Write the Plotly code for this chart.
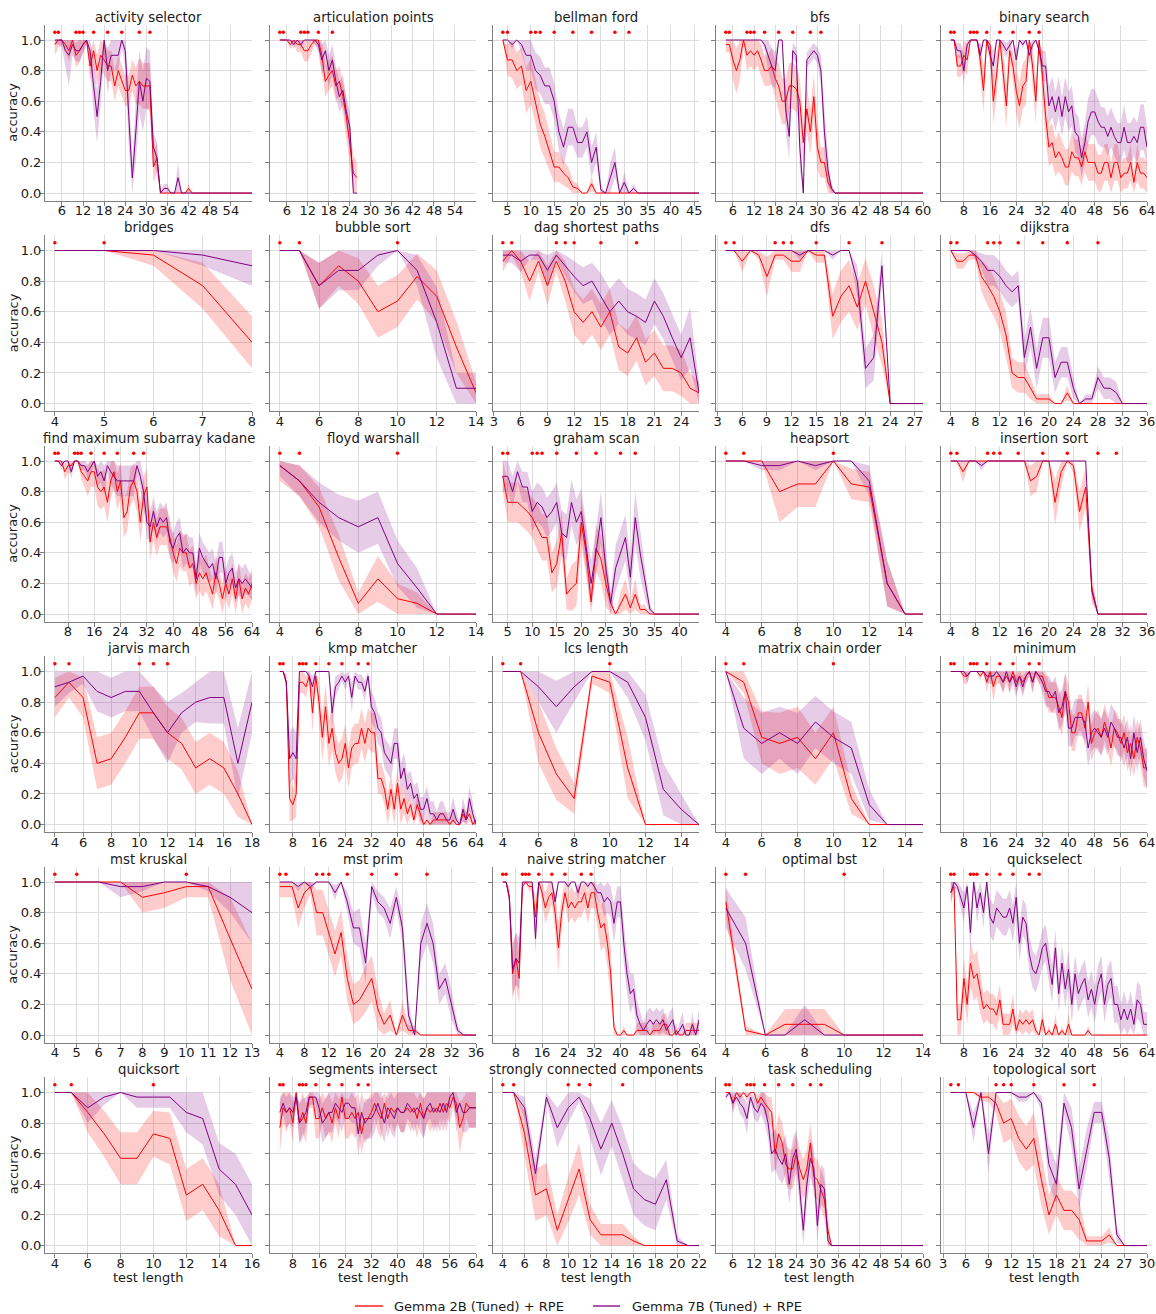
import sys
import plotly.graph_objects as go


def rng(a, b):
    return list(range(a, b + 1))


FULL_TRAIN = [4, 5, 10, 11, 12, 15, 19, 23, 28, 31]

# ---------------- activity selector ----------------
activity_selector_x = rng(4, 44) + [60]
activity_selector_red = [.97, 1, 1, .97, .93, 1, .90, .93, .97, 1,
                         .83, .93, .80, .90, .87, .83, .83, .70, .80, .73,
                         .67, .67, .77, .70, .73, .70, .70, .70, .17, .23,
                         0, 0, 0, 0, 0, 0, 0, 0, .03, 0,
                         0, 0]
activity_selector_red_err = [.07, .05, .03, .05, .07, .05, .08, .08, .05, .03,
                             .10, .10, .10, .10, .10, .10, .10, .10, .10, .10,
                             .10, .10, .10, .12, .15, .15, .15, .15, .10, .10,
                             0, 0, 0, 0, 0, 0, 0, 0, .03, 0,
                             0, 0]
activity_selector_purple = [1, 1, 1, .93, .90, .97, .93, .93, .97, 1,
                            .93, .70, .50, .73, 1, .80, .90, .90, .90, 1,
                            .93, .50, .10, .40, .73, .60, .75, .73, .30, .23,
                            0, .03, .03, 0, 0, .10, 0, 0, 0, 0,
                            0, 0]
activity_selector_purple_err = [.03, .03, .05, .10, .20, .07, .07, .07, .05, .03,
                                .10, .17, .17, .15, .10, .15, .10, .10, .10, .05,
                                .10, .20, .10, .20, .20, .20, .20, .20, .10, .10,
                                0, .03, .03, 0, 0, .10, 0, 0, 0, 0,
                                0, 0]
activity_selector_train = FULL_TRAIN
activity_selector_ticks = [6, 12, 18, 24, 30, 36, 42, 48, 54]

# ---------------- articulation points ----------------
articulation_points_x = rng(4, 26)
articulation_points_red = [1, 1, 1, .97, 1, .97, .97, .93, .93, .97,
                           1, 1, .90, .73, .77, .80, .70, .73, .63, .50,
                           .30, .13, .10]
articulation_points_red_err = [0, 0, 0, .03, .03, .05, .05, .07, .07, .05,
                               .03, .05, .10, .10, .10, .10, .10, .10, .10, .12,
                               .12, .12, .10]
articulation_points_purple = [1, 1, 1, 1, .97, 1, .97, 1, 1, 1,
                              1, .97, .87, .93, .80, .87, .73, .63, .67, .53,
                              .43, 0, 0]
articulation_points_purple_err = [0, 0, 0, 0, .03, 0, .03, 0, 0, 0,
                                  .03, .05, .10, .10, .10, .10, .10, .10, .10, .10,
                                  .10, 0, 0]
articulation_points_train = [4, 5, 10, 11, 12, 15, 19]
articulation_points_ticks = [6, 12, 18, 24, 30, 36, 42, 48, 54]

# ---------------- bellman ford ----------------
bellman_ford_x = rng(4, 34) + [46]
bellman_ford_red = [1, .87, .87, .80, .83, .67, .73, .60, .45, .37,
                    .27, .17, .17, .13, .10, .04, .03, 0, 0, .06,
                    0, 0, 0, 0, 0, 0, 0, 0, 0, 0,
                    0, 0]
bellman_ford_red_err = [0, .10, .12, .12, .12, .15, .15, .15, .15, .15,
                        .12, .10, .10, .08, .07, .04, .03, 0, 0, .05,
                        0, 0, 0, 0, 0, 0, 0, 0, 0, 0,
                        0, 0]
bellman_ford_purple = [1, 1, .97, 1, .97, .90, .90, .80, .77, .70,
                       .70, .60, .40, .30, .43, .43, .33, .33, .40, .20,
                       .30, .02, 0, .10, .20, 0, .07, 0, .03, 0,
                       0, 0]
bellman_ford_purple_err = [0, 0, .03, 0, .05, .10, .10, .12, .12, .12,
                           .12, .12, .12, .12, .12, .12, .10, .10, .10, .10,
                           .10, .03, 0, .10, .10, 0, .07, 0, .03, 0,
                           0, 0]
bellman_ford_train = FULL_TRAIN
bellman_ford_ticks = [5, 10, 15, 20, 25, 30, 35, 40, 45]

# ---------------- bfs ----------------
bfs_x = rng(4, 35) + [60]
bfs_red = [.97, .97, .87, .80, .87, 1, .90, .93, .90, .93,
           .87, .80, .80, .83, .75, .70, .60, .60, .70, .70,
           .68, .60, .33, .55, .40, .63, .30, .20, .20, .07,
           .03, 0, 0]
bfs_red_err = [.05, .05, .13, .15, .13, .05, .10, .10, .10, .10,
               .10, .10, .10, .12, .12, .15, .15, .15, .15, .15,
               .15, .15, .15, .15, .15, .15, .15, .10, .10, .07,
               .03, 0, 0]
bfs_purple = [1, 1, 1, 1, 1, 1, 1, 1, 1, 1,
              1, .97, .90, .83, .80, 1, 1, .55, .37, .93,
              .90, .30, 0, .87, .90, .93, .90, .80, .40, .15,
              .03, 0, 0]
bfs_purple_err = [0, 0, 0, 0, 0, 0, 0, 0, 0, 0,
                  0, .03, .10, .12, .12, 0, 0, .15, .15, .05,
                  .05, .15, 0, .05, .05, .05, .05, .10, .15, .10,
                  .03, 0, 0]
bfs_train = FULL_TRAIN
bfs_ticks = [6, 12, 18, 24, 30, 36, 42, 48, 54, 60]

# ---------------- binary search ----------------
binary_search_x = rng(4, 64)
binary_search_red = [1, 1, .83, .83, .90, .87, 1, 1, 1, .87,
                     .67, 1, .97, .60, .77, 1, .80, .57, .93, .83,
                     .67, .57, .70, .73, 1, .83, .60, 1, .77, .50,
                     .30, .33, .23, .27, .23, .17, .17, .27, .23, .23,
                     .17, .27, .20, .20, .20, .13, .13, .20, .20, .10,
                     .20, .20, .10, .13, .13, .20, .07, .20, .13, .13,
                     .10]
binary_search_red_err = [0, 0, .07, .07, .10, .10, 0, 0, 0, .10,
                         .15, .03, .05, .15, .15, .03, .15, .15, .07, .10,
                         .15, .15, .15, .15, .03, .13, .15, .03, .15, .15,
                         .13, .13, .12, .13, .12, .12, .12, .13, .12, .12,
                         .12, .13, .12, .12, .12, .12, .12, .12, .12, .10,
                         .12, .12, .10, .10, .10, .12, .07, .12, .10, .10,
                         .10]
binary_search_purple = [1, 1, .93, .93, .80, .97, 1, 1, 1, .90,
                        1, 1, .90, .83, 1, 1, .97, .93, .97, 1,
                        .87, 1, .97, 1, .90, .97, 1, .93, .83, .83,
                        .57, .63, .53, .63, .50, .63, .53, .57, .40, .37,
                        .23, .33, .47, .53, .53, .47, .43, .43, .37, .43,
                        .37, .33, .33, .43, .33, .33, .37, .33, .43, .43,
                        .30]
binary_search_purple_err = [0, 0, .05, .05, .10, .03, 0, 0, 0, .07,
                            0, 0, .07, .10, 0, 0, .03, .05, .03, 0,
                            .07, 0, .03, 0, .07, .03, 0, .05, .10, .10,
                            .13, .13, .13, .13, .13, .13, .13, .13, .13, .13,
                            .13, .13, .15, .15, .15, .15, .13, .13, .13, .13,
                            .13, .13, .13, .15, .13, .13, .13, .13, .15, .15,
                            .13]
binary_search_train = FULL_TRAIN
binary_search_ticks = [8, 16, 24, 32, 40, 48, 56, 64]

# ---------------- bridges ----------------
bridges_x = rng(4, 8)
bridges_red = [1, 1, .97, .77, .40]
bridges_red_err = [0, 0, .07, .15, .17]
bridges_purple = [1, 1, 1, .97, .90]
bridges_purple_err = [0, 0, 0, .07, .13]
bridges_train = [4, 5]
bridges_ticks = [4, 5, 6, 7, 8]

# ---------------- bubble sort ----------------
bubble_sort_x = rng(4, 14)
bubble_sort_red = [1, 1, .77, .90, .80, .60, .67, .83, .70, .37, .07]
bubble_sort_red_err = [0, 0, .15, .13, .15, .17, .17, .15, .17, .17, .07]
bubble_sort_purple = [1, 1, .77, .87, .87, .97, 1, .87, .53, .10, .10]
bubble_sort_purple_err = [0, 0, .15, .13, .13, .07, 0, .10, .23, .10, .10]
bubble_sort_train = [4, 5, 10]
bubble_sort_ticks = [4, 6, 8, 10, 12, 14]

# ---------------- dag shortest paths ----------------
dag_x = rng(4, 26)
dag_red = [.93, 1, .93, .80, .93, .77, .93, .80, .60, .53,
           .60, .50, .60, .37, .33, .43, .27, .33, .23, .23,
           .20, .10, .07]
dag_red_err = [.07, .03, .07, .13, .07, .13, .07, .13, .15, .15,
               .15, .15, .15, .15, .15, .15, .15, .15, .15, .15,
               .15, .10, .07]
dag_purple = [.97, .97, .93, .97, .97, .87, .97, .90, .83, .77,
              .80, .70, .60, .67, .60, .57, .53, .67, .57, .43,
              .30, .43, .07]
dag_purple_err = [.05, .05, .07, .03, .03, .10, .03, .07, .10, .12,
                  .12, .15, .15, .15, .15, .15, .15, .15, .15, .15,
                  .15, .20, .07]
dag_train = [4, 5, 10, 11, 12, 15, 19]
dag_ticks = [3, 6, 9, 12, 15, 18, 21, 24]

# ---------------- dfs ----------------
dfs_x = rng(4, 28)
dfs_red = [1, 1, .93, 1, .97, .83, .97, .97, .93, .93,
           1, .97, .97, .57, .70, .77, .63, .80, .60, .40,
           0, 0, 0, 0, 0]
dfs_red_err = [0, 0, .07, 0, .03, .13, .03, .03, .07, .07,
               0, .05, .05, .15, .17, .17, .15, .15, .17, .15,
               0, 0, 0, 0, 0]
dfs_purple = [1, 1, 1, 1, 1, 1, 1, 1, 1, .97,
              1, 1, 1, .97, 1, 1, .80, .23, .30, .90,
              0, 0, 0, 0, 0]
dfs_purple_err = [0, 0, 0, 0, 0, 0, 0, 0, 0, .03,
                  0, 0, 0, .03, 0, 0, .10, .13, .15, .10,
                  0, 0, 0, 0, 0]
dfs_train = [4, 5, 10, 11, 12, 15, 19, 23]
dfs_ticks = [3, 6, 9, 12, 15, 18, 21, 24, 27]

# ---------------- dijkstra ----------------
dijkstra_x = rng(4, 33) + [36]
dijkstra_red = [1, .93, .93, .97, .97, .83, .77, .70, .60, .45,
                .20, .17, .17, .10, .03, .03, .03, 0, 0, .07,
                0, 0, 0, 0, 0, 0, 0, 0, 0, 0,
                0]
dijkstra_red_err = [0, .05, .05, .03, .03, .10, .13, .13, .13, .15,
                    .10, .10, .10, .07, .03, .03, .03, 0, 0, .05,
                    0, 0, 0, 0, 0, 0, 0, 0, 0, 0,
                    0]
dijkstra_purple = [1, 1, 1, 1, .97, .93, .87, .87, .83, .77,
                   .73, .77, .30, .50, .23, .43, .43, .17, .27, .27,
                   .10, 0, .03, .03, .17, .10, .10, .07, 0, 0,
                   0]
dijkstra_purple_err = [0, 0, 0, 0, .03, .05, .10, .10, .10, .10,
                       .10, .10, .12, .13, .13, .13, .13, .10, .10, .10,
                       .07, 0, .03, .03, .07, .07, .07, .07, 0, 0,
                       0]
dijkstra_train = [4, 5, 10, 11, 12, 15, 19, 23, 28]
dijkstra_ticks = [4, 8, 12, 16, 20, 24, 28, 32, 36]

# ---------------- find maximum subarray kadane ----------------
kadane_x = rng(4, 64)
kadane_red = [1, 1, 1, .93, .97, .97, 1, 1, .93, .90,
              .87, .93, .93, .83, .80, .83, .73, .87, .93, .80,
              .87, .63, .67, .83, .87, .80, .60, .77, .83, .47,
              .60, .50, .57, .57, .57, .50, .40, .33, .43, .40,
              .40, .30, .33, .20, .27, .23, .27, .20, .13, .27,
              .20, .10, .20, .13, .23, .10, .23, .10, .17, .13,
              .20]
kadane_red_err = [0, 0, 0, .05, .05, .05, 0, 0, .05, .07,
                  .10, .10, .10, .12, .12, .12, .13, .12, .10, .12,
                  .12, .13, .13, .12, .12, .13, .13, .13, .12, .12,
                  .12, .12, .12, .12, .12, .12, .12, .12, .12, .12,
                  .12, .12, .12, .10, .12, .12, .12, .10, .10, .12,
                  .10, .10, .10, .10, .10, .10, .10, .10, .10, .10,
                  .10]
kadane_purple = [1, 1, .97, 1, 1, .93, 1, 1, .97, .97,
                 .93, .97, 1, .90, .93, .87, .97, .93, .90, .87,
                 .87, .87, .87, .87, .87, .97, .90, .80, .60, .57,
                 .67, .57, .63, .60, .63, .47, .43, .50, .53, .40,
                 .43, .40, .40, .23, .43, .37, .33, .30, .33, .23,
                 .37, .37, .20, .27, .30, .17, .23, .20, .23, .20,
                 .17]
kadane_purple_err = [0, 0, .03, 0, 0, .05, 0, 0, .03, .03,
                     .05, .05, .03, .07, .07, .10, .05, .07, .10, .10,
                     .10, .10, .10, .10, .10, .05, .10, .10, .10, .10,
                     .10, .10, .10, .10, .10, .10, .10, .10, .10, .10,
                     .10, .10, .10, .10, .10, .10, .10, .10, .10, .10,
                     .10, .10, .10, .10, .10, .10, .10, .10, .10, .08,
                     .08]
kadane_train = FULL_TRAIN
kadane_ticks = [8, 16, 24, 32, 40, 48, 56, 64]

# ---------------- floyd warshall ----------------
floyd_x = rng(4, 14)
floyd_red = [.97, .87, .70, .37, .07, .23, .10, .07, 0, 0, 0]
floyd_red_err = [.10, .10, .13, .15, .07, .15, .10, .07, 0, 0, 0]
floyd_purple = [.97, .87, .73, .63, .57, .63, .33, .17, 0, 0, 0]
floyd_purple_err = [.07, .10, .13, .15, .17, .17, .15, .13, 0, 0, 0]
floyd_train = [4, 5, 10]
floyd_ticks = [4, 6, 8, 10, 12, 14]

# ---------------- graham scan ----------------
graham_x = rng(4, 35) + [44]
graham_red = [.90, .73, .73, .73, .70, .67, .63, .57, .50, .50,
              .27, .33, .53, .13, .17, .20, .60, .40, .08, .43,
              .36, .20, .07, 0, .07, .13, .04, .13, .03, .03,
              0, 0, 0]
graham_red_err = [.10, .13, .13, .13, .13, .13, .13, .15, .15, .15,
                  .13, .15, .15, .10, .15, .15, .15, .15, .08, .15,
                  .15, .15, .07, 0, .07, .10, .05, .10, .03, .03,
                  0, 0, 0]
graham_purple = [.90, .90, .80, .93, .83, .83, .67, .73, .70, .63,
                 .67, .73, .53, .50, .73, .60, .67, .43, .20, .40,
                 .63, .30, .07, .30, .40, .50, .24, .63, .40, .20,
                 .03, 0, 0]
graham_purple_err = [.10, .10, .10, .07, .10, .10, .13, .13, .13, .13,
                     .13, .13, .15, .15, .15, .15, .15, .15, .15, .15,
                     .17, .15, .07, .15, .15, .15, .13, .17, .15, .10,
                     .03, 0, 0]
graham_train = FULL_TRAIN
graham_ticks = [5, 10, 15, 20, 25, 30, 35, 40]

# ---------------- heapsort ----------------
heapsort_x = rng(4, 15)
heapsort_red = [1, 1, 1, .80, .85, .85, 1, .85, .83, .20, 0, 0]
heapsort_red_err = [0, 0, 0, .20, .15, .15, 0, .10, .10, .15, 0, 0]
heapsort_purple = [1, 1, .97, .97, 1, .97, 1, 1, .87, .20, 0, 0]
heapsort_purple_err = [0, 0, .03, .03, 0, .03, 0, 0, .10, .15, 0, 0]
heapsort_train = [4, 5, 10]
heapsort_ticks = [4, 6, 8, 10, 12, 14]

# ---------------- insertion sort ----------------
insertion_x = rng(4, 28) + [36]
insertion_red = [1, 1, .93, 1, 1, 1, 1, 1, 1, 1,
                 1, 1, 1, .87, .90, 1, 1, .73, .93, 1,
                 .97, .67, .83, .17, 0, 0]
insertion_red_err = [0, 0, .07, 0, 0, 0, 0, 0, 0, 0,
                     0, 0, 0, .10, .10, 0, 0, .15, .10, 0,
                     .05, .13, .13, .10, 0, 0]
insertion_purple = [1, 1, 1, 1, 1, .97, 1, 1, 1, 1,
                    1, 1, 1, 1, 1, 1, 1, 1, 1, 1,
                    1, 1, 1, .15, 0, 0]
insertion_purple_err = [0, 0, 0, 0, 0, .03, 0, 0, 0, 0,
                        0, 0, 0, 0, 0, 0, 0, 0, 0, 0,
                        0, 0, 0, .05, 0, 0]
insertion_train = FULL_TRAIN
insertion_ticks = [4, 8, 12, 16, 20, 24, 28, 32, 36]

# ---------------- jarvis march ----------------
jarvis_x = rng(4, 18)
jarvis_red = [.83, .93, .83, .40, .43, .57, .73, .73, .60, .53, .37, .43, .37, .20, 0]
jarvis_red_err = [.13, .10, .13, .17, .17, .17, .17, .17, .17, .17, .17, .17, .17, .15, 0]
jarvis_purple = [.90, .93, .97, .87, .83, .87, .87, .73, .60, .73, .80, .83, .83, .40, .80]
jarvis_purple_err = [.13, .07, .05, .13, .13, .13, .13, .17, .20, .13, .13, .17, .17, .23, .20]
jarvis_train = [4, 5, 10, 11, 12]
jarvis_ticks = [4, 6, 8, 10, 12, 14, 16, 18]

# ---------------- kmp matcher ----------------
kmp_x = rng(4, 64)
kmp_red = [1, 1, .93, .17, .13, .20, .93, .93, .90, .97,
           .73, .97, .80, .57, .77, .53, .63, .47, .40, .43,
           .53, .37, .50, .53, .53, .63, .53, .63, .60, .60,
           .30, .30, .23, .10, .23, .10, .27, .10, .17, .07,
           .13, .03, .13, .07, 0, .03, 0, .03, .03, .03,
           .03, .03, 0, .03, 0, 0, .07, .03, .07, 0,
           .03]
kmp_red_err = [0, 0, .05, .15, .10, .15, .07, .07, .07, .03,
               .13, .05, .13, .15, .15, .15, .15, .13, .13, .13,
               .13, .13, .13, .13, .13, .13, .13, .13, .13, .13,
               .10, .10, .10, .10, .10, .10, .10, .10, .10, .07,
               .07, .05, .07, .07, 0, .05, 0, .05, .05, .05,
               .05, .05, 0, .05, 0, 0, .05, .05, .05, 0,
               .05]
kmp_purple = [1, 1, .93, .43, .47, .43, 1, 1, 1, .97,
              .90, 1, 1, 1, 1, 1, .73, .90, .93, .97,
              .93, .97, .83, .97, .93, .93, .87, .97, .77, .73,
              .63, .60, .47, .43, .40, .53, .53, .30, .37, .23,
              .27, .17, .20, .10, .10, .17, .07, .07, .03, .07,
              .07, .03, .03, .10, .03, 0, .10, .03, .17, .07,
              0]
kmp_purple_err = [0, 0, .05, .17, .17, .17, 0, 0, 0, .03,
                  .07, 0, 0, 0, 0, 0, .10, .07, .05, .03,
                  .05, .03, .10, .03, .05, .05, .07, .03, .10, .10,
                  .10, .10, .10, .10, .10, .10, .10, .10, .10, .10,
                  .08, .08, .08, .08, .08, .08, .08, .08, .05, .08,
                  .08, .05, .05, .08, .05, 0, .08, .05, .08, .08,
                  0]
kmp_train = FULL_TRAIN
kmp_ticks = [8, 16, 24, 32, 40, 48, 56, 64]

# ---------------- lcs length ----------------
lcs_x = rng(4, 15)
lcs_red = [1, 1, .60, .33, .17, .97, .93, .37, 0, 0, 0, 0]
lcs_red_err = [0, 0, .20, .17, .10, .05, .07, .20, 0, 0, 0, 0]
lcs_purple = [1, 1, .90, .77, .90, 1, 1, .93, .70, .23, .10, 0]
lcs_purple_err = [0, 0, .10, .17, .10, 0, 0, .10, .15, .17, .10, 0]
lcs_train = [4, 5, 10]
lcs_ticks = [4, 6, 8, 10, 12, 14]

# ---------------- matrix chain order ----------------
matrix_x = rng(4, 15)
matrix_red = [1, .93, .57, .53, .57, .43, .60, .17, 0, 0, 0, 0]
matrix_red_err = [0, .07, .17, .20, .20, .17, .17, .10, 0, 0, 0, 0]
matrix_purple = [1, .63, .53, .60, .53, .67, .57, .50, .13, 0, 0, 0]
matrix_purple_err = [0, .20, .20, .17, .20, .17, .17, .17, .10, 0, 0, 0]
matrix_train = [4, 5, 10]
matrix_ticks = [4, 6, 8, 10, 12, 14]

# ---------------- minimum ----------------
minimum_x = rng(4, 64)
minimum_red = [1, 1, 1, 1, .97, .97, 1, 1, 1, .97,
               1, .93, 1, .90, .97, .97, .93, .97, .93, 1,
               .93, .97, .93, .97, 1, .93, 1, .97, .97, .90,
               .83, .83, .83, .77, .70, .87, .80, .60, .60, .73,
               .73, .63, .80, .53, .60, .63, .57, .67, .60, .50,
               .63, .60, .53, .60, .47, .53, .43, .57, .50, .37,
               .37]
minimum_red_err = [0, 0, 0, 0, .05, .05, 0, 0, 0, .03,
                   0, .07, .03, .10, .05, .05, .07, .05, .07, .03,
                   .07, .05, .07, .05, .03, .07, .03, .05, .05, .10,
                   .10, .10, .10, .12, .12, .12, .12, .12, .12, .12,
                   .12, .12, .12, .12, .12, .12, .12, .12, .12, .12,
                   .12, .12, .12, .12, .12, .12, .12, .12, .12, .12,
                   .13]
minimum_purple = [1, 1, 1, 1, 1, .97, 1, 1, 1, 1,
                  1, .97, .97, .97, 1, .97, .93, 1, .93, .97,
                  .90, .97, .90, .97, 1, .93, 1, .97, .93, .87,
                  .87, .83, .87, .73, .77, .87, .63, .63, .70, .70,
                  .70, .67, .50, .60, .63, .60, .57, .63, .57, .67,
                  .63, .57, .57, .50, .57, .43, .60, .47, .57, .43,
                  .35]
minimum_purple_err = [0, 0, 0, 0, 0, .05, 0, 0, 0, 0,
                      0, .05, .05, .05, 0, .05, .07, .03, .07, .05,
                      .07, .05, .07, .05, .03, .07, .03, .05, .07, .10,
                      .10, .10, .10, .12, .12, .12, .12, .12, .12, .12,
                      .12, .12, .12, .12, .12, .12, .12, .12, .12, .12,
                      .12, .12, .12, .12, .12, .12, .12, .12, .12, .12,
                      .12]
minimum_train = FULL_TRAIN
minimum_ticks = [8, 16, 24, 32, 40, 48, 56, 64]

# ---------------- mst kruskal ----------------
kruskal_x = rng(4, 13)
kruskal_red = [1, 1, 1, 1, .90, .93, .97, .97, .63, .30]
kruskal_red_err = [0, 0, 0, 0, .10, .10, .07, .07, .27, .30]
kruskal_purple = [1, 1, 1, .97, .97, 1, 1, .97, .90, .80]
kruskal_purple_err = [0, 0, 0, .07, .03, 0, 0, .03, .10, .20]
kruskal_train = [4, 5, 10]
kruskal_ticks = [4, 5, 6, 7, 8, 9, 10, 11, 12, 13]

# ---------------- mst prim ----------------
prim_x = rng(4, 34) + [36]
prim_red = [.97, .97, .97, .83, .93, .97, .80, .80, .67, .53,
            .67, .37, .20, .23, .30, .37, .17, .07, .13, 0,
            .13, .03, .03, 0, 0, 0, 0, 0, 0, 0,
            0, 0]
prim_red_err = [.07, .07, .07, .13, .10, .05, .15, .15, .15, .15,
                .15, .15, .13, .13, .15, .15, .13, .07, .10, 0,
                .10, .03, .03, 0, 0, 0, 0, 0, 0, 0,
                0, 0]
prim_purple = [1, 1, 1, .97, 1, .97, 1, 1, 1, .93,
               1, .87, .70, .70, .47, .97, .87, .83, .73, .90,
               .70, .13, 0, .60, .73, .60, .30, .37, .20, .03,
               0, 0]
prim_purple_err = [0, 0, 0, .03, 0, .03, 0, 0, 0, .05,
                   0, .07, .10, .13, .13, .05, .07, .07, .10, .07,
                   .10, .10, 0, .13, .13, .13, .10, .10, .10, .03,
                   0, 0]
prim_train = [4, 5, 10, 11, 12, 15, 19, 23, 28]
prim_ticks = [4, 8, 12, 16, 20, 24, 28, 32, 36]

# ---------------- naive string matcher ----------------
naive_x = rng(4, 64)
naive_red = [1, 1, .90, .40, .50, .37, .97, 1, .97, .97,
             .77, 1, .93, .83, .90, .93, .80, .57, .80, .93,
             .83, .87, .83, .87, .87, .93, .83, .93, .93, .80,
             .70, .73, .60, .40, .05, 0, 0, .03, 0, 0,
             0, .03, .03, .03, .03, 0, .03, .03, .03, .07,
             .07, 0, 0, .03, 0, 0, .03, .03, .03, .03,
             .03]
naive_red_err = [0, 0, .07, .17, .17, .17, .03, 0, .03, .03,
                 .13, 0, .07, .10, .10, .07, .13, .17, .10, .07,
                 .10, .10, .10, .10, .10, .10, .10, .10, .10, .10,
                 .15, .15, .15, .17, .05, 0, 0, .03, 0, 0,
                 0, .05, .05, .05, .05, 0, .05, .05, .05, .07,
                 .07, 0, 0, .05, 0, 0, .05, .05, .05, .05,
                 .05]
naive_purple = [1, 1, .90, .43, .50, .47, 1, 1, 1, 1,
                .63, 1, 1, 1, 1, 1, .87, 1, 1, 1,
                .97, 1, 1, .93, 1, 1, .97, 1, .97, .93,
                .93, .87, .90, .87, .73, .87, .87, .60, .40, .27,
                .30, .13, .07, .03, .07, .10, .07, .10, .07, .10,
                .03, .07, .10, 0, .03, .07, 0, 0, .07, 0,
                .10]
naive_purple_err = [0, 0, .05, .17, .17, .17, 0, 0, 0, 0,
                    .10, 0, 0, 0, 0, 0, .05, 0, 0, 0,
                    .03, 0, 0, .05, 0, 0, .03, 0, .03, .05,
                    .07, .10, .10, .10, .13, .10, .10, .13, .13, .13,
                    .10, .10, .08, .05, .08, .08, .08, .08, .08, .08,
                    .05, .08, .08, 0, .05, .08, 0, 0, .08, 0,
                    .08]
naive_train = FULL_TRAIN
naive_ticks = [8, 16, 24, 32, 40, 48, 56, 64]

# ---------------- optimal bst ----------------
obst_x = rng(4, 14)
obst_red = [.87, .03, 0, .07, .07, .07, 0, 0, 0, 0, 0]
obst_red_err = [.10, .03, 0, .10, .10, .10, 0, 0, 0, 0, 0]
obst_purple = [.83, .60, 0, 0, .10, 0, 0, 0, 0, 0, 0]
obst_purple_err = [.13, .17, 0, 0, .10, 0, 0, 0, 0, 0, 0]
obst_train = [4, 5, 10]
obst_ticks = [4, 6, 8, 10, 12, 14]

# ---------------- quickselect ----------------
quickselect_x = rng(4, 64)
quickselect_red = [.93, .97, .10, .10, .37, .20, .47, .37, .40, .27,
                   .17, .20, .17, .17, .13, .23, .07, .07, .07, .17,
                   .03, .10, .07, .10, .07, .10, .03, 0, .10, 0,
                   .03, 0, .07, 0, .03, 0, .07, 0, 0, 0,
                   0, 0, .03, 0, 0, 0, 0, 0, 0, 0,
                   0, 0, 0, 0, 0, 0, 0, 0, 0, 0,
                   0]
quickselect_red_err = [.07, .03, .10, .10, .13, .13, .15, .15, .15, .13,
                       .10, .10, .10, .10, .10, .10, .07, .07, .07, .10,
                       .03, .07, .07, .07, .07, .07, .03, 0, .07, 0,
                       .03, 0, .07, 0, .03, 0, .07, 0, 0, 0,
                       0, 0, .03, 0, 0, 0, 0, 0, 0, 0,
                       0, 0, 0, 0, 0, 0, 0, 0, 0, 0,
                       0]
quickselect_purple = [.93, 1, .97, .90, .83, .97, .67, 1, .83, .93,
                      .80, 1, .77, .73, .83, .80, .77, .77, .83, .73,
                      .90, .60, .77, .73, .53, .43, .40, .47, .57, .60,
                      .47, .33, .57, .27, .47, .30, .43, .20, .40, .27,
                      .33, .37, .23, .30, .20, .33, .40, .20, .33, .37,
                      .20, .20, .10, .17, .10, .17, .07, .23, .20, .07,
                      .07]
quickselect_purple_err = [.07, .03, .03, .07, .10, .05, .13, .03, .10, .07,
                          .10, .05, .12, .12, .12, .12, .12, .12, .12, .12,
                          .12, .12, .12, .12, .12, .12, .12, .12, .12, .12,
                          .12, .12, .12, .12, .12, .12, .12, .12, .12, .12,
                          .12, .12, .12, .12, .12, .12, .12, .12, .12, .12,
                          .12, .12, .10, .12, .10, .12, .10, .12, .12, .08,
                          .08]
quickselect_train = FULL_TRAIN
quickselect_ticks = [8, 16, 24, 32, 40, 48, 56, 64]

# ---------------- quicksort ----------------
quicksort_x = rng(4, 16)
quicksort_red = [1, 1, .87, .73, .57, .57, .73, .70, .33, .40, .23, 0, 0]
quicksort_red_err = [0, 0, .13, .15, .17, .17, .15, .17, .17, .17, .17, 0, 0]
quicksort_purple = [1, 1, .90, .97, 1, .97, .97, .97, .87, .83, .50, .40, .20]
quicksort_purple_err = [0, 0, .10, .05, 0, .07, .07, .07, .13, .17, .17, .20, .20]
quicksort_train = [4, 5, 10]
quicksort_ticks = [4, 6, 8, 10, 12, 14, 16]

# ---------------- segments intersect ----------------
segments_x = rng(4, 64)
segments_red = [.77, .90, .87, .90, .80, 1, .80, .87, .80, .97,
                .97, .83, .83, .90, .83, .87, .80, .90, .83, .97,
                .83, .83, .87, .83, .87, .73, .83, .83, .87, .93,
                .87, .83, .93, .83, .90, .87, .90, .87, .87, .90,
                .87, .90, .83, .93, .83, .90, .87, .90, .87, .93,
                .87, .93, .90, .97, .93, .77, .83, .93, .90, .90,
                .90]
segments_red_err = [.17, .10, .13, .10, .13, .05, .13, .13, .13, .07,
                    .07, .13, .13, .10, .13, .13, .13, .10, .13, .07,
                    .13, .13, .13, .13, .13, .13, .13, .13, .13, .10,
                    .13, .13, .10, .13, .10, .13, .10, .13, .13, .10,
                    .13, .10, .13, .10, .13, .10, .13, .10, .13, .10,
                    .13, .10, .10, .07, .10, .17, .13, .10, .13, .13,
                    .13]
segments_purple = [.87, .93, .87, .90, .87, .97, .80, .83, .87, .97,
                   .97, .97, .90, .80, .83, .87, .87, .93, .90, .87,
                   .93, .93, .90, .90, .73, .87, .80, .83, .83, .87,
                   .93, .87, .80, .90, .87, .83, .90, .87, .87, .93,
                   .90, .87, .90, .87, .83, .90, .93, .87, .90, .87,
                   .93, .87, .97, 1, .87, .93, .87, .87, .90, .90,
                   .90]
segments_purple_err = [.10, .07, .10, .10, .10, .05, .13, .13, .10, .05,
                       .05, .05, .10, .13, .13, .13, .13, .10, .10, .13,
                       .10, .10, .10, .10, .15, .13, .13, .13, .13, .13,
                       .10, .13, .13, .10, .13, .13, .10, .13, .13, .10,
                       .10, .13, .10, .13, .13, .10, .10, .13, .10, .13,
                       .10, .13, .07, .05, .13, .10, .13, .13, .13, .13,
                       .13]
segments_train = FULL_TRAIN
segments_ticks = [8, 16, 24, 32, 40, 48, 56, 64]

# ---------------- strongly connected components ----------------
scc_x = rng(4, 22)
scc_red = [1, 1, .73, .33, .37, .10, .30, .50, .17, .07, .07, .07, .03, 0, 0, 0, 0, 0, 0]
scc_red_err = [0, 0, .15, .17, .17, .10, .15, .17, .10, .07, .07, .07, .03, 0, 0, 0, 0, 0, 0]
scc_purple = [1, 1, .90, .47, .97, .77, .90, .97, .83, .63, .80, .60, .37, .30, .27, .43, .03, 0, 0]
scc_purple_err = [0, 0, .07, .10, .03, .13, .10, .03, .13, .17, .15, .17, .17, .17, .17, .13, .03, 0, 0]
scc_train = [4, 5, 10, 11, 12, 15]
scc_ticks = [4, 6, 8, 10, 12, 14, 16, 18, 20, 22]

# ---------------- task scheduling ----------------
task_x = rng(4, 34) + [60]
task_red = [1, 1, .93, 1, .97, 1, .97, 1, 1, .93,
            .97, .93, .90, .87, .60, .73, .67, .53, .50, .50,
            .60, .50, .43, .50, .67, .45, .43, .37, .30, .10,
            0, 0]
task_red_err = [0, 0, .05, 0, .03, 0, .03, 0, 0, .05,
                .03, .07, .07, .10, .13, .13, .13, .13, .13, .13,
                .13, .13, .13, .13, .13, .13, .13, .13, .13, .10,
                0, 0]
task_purple = [.97, 1, .93, .97, .93, .90, .83, .97, .90, .87,
               .93, .90, .80, .60, .63, .57, .53, .60, .40, .57,
               .63, .37, .10, .40, .57, .50, .13, .40, .37, .03,
               0, 0]
task_purple_err = [.03, 0, .07, .03, .07, .07, .10, .03, .07, .07,
                   .07, .10, .10, .13, .13, .13, .13, .13, .13, .13,
                   .13, .13, .10, .13, .13, .13, .10, .13, .13, .03,
                   0, 0]
task_train = FULL_TRAIN
task_ticks = [6, 12, 18, 24, 30, 36, 42, 48, 54, 60]

# ---------------- topological sort ----------------
topo_x = rng(4, 30)
topo_red = [1, 1, 1, 1, .97, .97, .93, .80, .83, .70,
            .63, .70, .43, .20, .33, .23, .23, .17, .03, .03,
            .03, .07, 0, 0, 0, 0, 0]
topo_red_err = [0, 0, 0, 0, .03, .03, .07, .13, .13, .15,
                .15, .17, .17, .13, .13, .13, .13, .13, .03, .03,
                .03, .05, 0, 0, 0, 0, 0]
topo_purple = [1, 1, 1, .77, 1, .60, 1, 1, 1, .97,
               .97, 1, .93, .53, .40, .93, .77, .37, .63, .87,
               .87, .57, .07, 0, 0, 0, 0]
topo_purple_err = [0, 0, 0, .10, 0, .13, 0, 0, 0, .03,
                   .03, 0, .05, .13, .13, .07, .13, .13, .13, .07,
                   .07, .13, .05, 0, 0, 0, 0]
topo_train = [4, 5, 10, 11, 12, 15, 19, 23]
topo_ticks = [3, 6, 9, 12, 15, 18, 21, 24, 27, 30]

SERIES_NAMES = ["Gemma 2B (Tuned) + RPE", "Gemma 7B (Tuned) + RPE"]
Y_TICKS = [0.0, 0.2, 0.4, 0.6, 0.8, 1.0]

PANELS = [
    ("activity selector", activity_selector_x, activity_selector_red, activity_selector_red_err,
     activity_selector_purple, activity_selector_purple_err, activity_selector_train, activity_selector_ticks, 60),
    ("articulation points", articulation_points_x, articulation_points_red, articulation_points_red_err,
     articulation_points_purple, articulation_points_purple_err, articulation_points_train, articulation_points_ticks, 60),
    ("bellman ford", bellman_ford_x, bellman_ford_red, bellman_ford_red_err,
     bellman_ford_purple, bellman_ford_purple_err, bellman_ford_train, bellman_ford_ticks, 46),
    ("bfs", bfs_x, bfs_red, bfs_red_err, bfs_purple, bfs_purple_err, bfs_train, bfs_ticks, 60),
    ("binary search", binary_search_x, binary_search_red, binary_search_red_err,
     binary_search_purple, binary_search_purple_err, binary_search_train, binary_search_ticks, 64),
    ("bridges", bridges_x, bridges_red, bridges_red_err, bridges_purple, bridges_purple_err,
     bridges_train, bridges_ticks, 8),
    ("bubble sort", bubble_sort_x, bubble_sort_red, bubble_sort_red_err, bubble_sort_purple,
     bubble_sort_purple_err, bubble_sort_train, bubble_sort_ticks, 14),
    ("dag shortest paths", dag_x, dag_red, dag_red_err, dag_purple, dag_purple_err, dag_train, dag_ticks, 26),
    ("dfs", dfs_x, dfs_red, dfs_red_err, dfs_purple, dfs_purple_err, dfs_train, dfs_ticks, 28),
    ("dijkstra", dijkstra_x, dijkstra_red, dijkstra_red_err, dijkstra_purple, dijkstra_purple_err,
     dijkstra_train, dijkstra_ticks, 36),
    ("find maximum subarray kadane", kadane_x, kadane_red, kadane_red_err, kadane_purple,
     kadane_purple_err, kadane_train, kadane_ticks, 64),
    ("floyd warshall", floyd_x, floyd_red, floyd_red_err, floyd_purple, floyd_purple_err,
     floyd_train, floyd_ticks, 14),
    ("graham scan", graham_x, graham_red, graham_red_err, graham_purple, graham_purple_err,
     graham_train, graham_ticks, 44),
    ("heapsort", heapsort_x, heapsort_red, heapsort_red_err, heapsort_purple, heapsort_purple_err,
     heapsort_train, heapsort_ticks, 15),
    ("insertion sort", insertion_x, insertion_red, insertion_red_err, insertion_purple,
     insertion_purple_err, insertion_train, insertion_ticks, 36),
    ("jarvis march", jarvis_x, jarvis_red, jarvis_red_err, jarvis_purple, jarvis_purple_err,
     jarvis_train, jarvis_ticks, 18),
    ("kmp matcher", kmp_x, kmp_red, kmp_red_err, kmp_purple, kmp_purple_err, kmp_train, kmp_ticks, 64),
    ("lcs length", lcs_x, lcs_red, lcs_red_err, lcs_purple, lcs_purple_err, lcs_train, lcs_ticks, 15),
    ("matrix chain order", matrix_x, matrix_red, matrix_red_err, matrix_purple, matrix_purple_err,
     matrix_train, matrix_ticks, 15),
    ("minimum", minimum_x, minimum_red, minimum_red_err, minimum_purple, minimum_purple_err,
     minimum_train, minimum_ticks, 64),
    ("mst kruskal", kruskal_x, kruskal_red, kruskal_red_err, kruskal_purple, kruskal_purple_err,
     kruskal_train, kruskal_ticks, 13),
    ("mst prim", prim_x, prim_red, prim_red_err, prim_purple, prim_purple_err, prim_train, prim_ticks, 36),
    ("naive string matcher", naive_x, naive_red, naive_red_err, naive_purple, naive_purple_err,
     naive_train, naive_ticks, 64),
    ("optimal bst", obst_x, obst_red, obst_red_err, obst_purple, obst_purple_err, obst_train, obst_ticks, 14),
    ("quickselect", quickselect_x, quickselect_red, quickselect_red_err, quickselect_purple,
     quickselect_purple_err, quickselect_train, quickselect_ticks, 64),
    ("quicksort", quicksort_x, quicksort_red, quicksort_red_err, quicksort_purple, quicksort_purple_err,
     quicksort_train, quicksort_ticks, 16),
    ("segments intersect", segments_x, segments_red, segments_red_err, segments_purple,
     segments_purple_err, segments_train, segments_ticks, 64),
    ("strongly connected components", scc_x, scc_red, scc_red_err, scc_purple, scc_purple_err,
     scc_train, scc_ticks, 22),
    ("task scheduling", task_x, task_red, task_red_err, task_purple, task_purple_err,
     task_train, task_ticks, 60),
    ("topological sort", topo_x, topo_red, topo_red_err, topo_purple, topo_purple_err,
     topo_train, topo_ticks, 30),
]

# ---------------- layout / style ----------------
W, H = 1156, 1314
COL_L = [45, 270, 493, 716, 941]
COL_R = [252, 476, 699, 923, 1147]
ROW_T0, ROW_HT, ROW_STEP = 24.7, 176.0, 210.5

RED = "#ff0000"
PURPLE = "#800080"
RED_FILL = "rgba(255,0,0,0.2)"
PURPLE_FILL = "rgba(128,0,128,0.2)"
FONT = "DejaVu Sans"
TXT = "#1a1a1a"
GRID = "#dcdcdc"
SPINE = "#808080"

fig = go.Figure()
layout_axes = {}
annotations = []
shapes = []

for i, (name, xs, r, re_, p, pe, train, ticks, xmax) in enumerate(PANELS):
    row, col = divmod(i, 5)
    n = len(xs)
    for arr, lab in ((r, "red"), (re_, "red_err"), (p, "purple"), (pe, "purple_err")):
        if len(arr) != n:
            print(f"WARNING: {name} {lab} has {len(arr)} values, x has {n}", file=sys.stderr)
    n = min(len(xs), len(r), len(re_), len(p), len(pe))
    xs, r, re_, p, pe = xs[:n], r[:n], re_[:n], p[:n], pe[:n]

    xa = "x" if i == 0 else f"x{i + 1}"
    ya = "y" if i == 0 else f"y{i + 1}"

    for mean, err, fill_c in ((r, re_, RED_FILL), (p, pe, PURPLE_FILL)):
        lo = [max(0.0, m - e) for m, e in zip(mean, err)]
        hi = [min(1.0, m + e) for m, e in zip(mean, err)]
        fig.add_trace(go.Scatter(
            x=list(xs) + list(xs[::-1]), y=hi + lo[::-1],
            mode="lines", fill="toself", fillcolor=fill_c,
            line=dict(width=0), hoverinfo="skip", showlegend=False,
            xaxis=xa, yaxis=ya))

    for mean, color, sname in ((r, RED, SERIES_NAMES[0]), (p, PURPLE, SERIES_NAMES[1])):
        fig.add_trace(go.Scatter(
            x=xs, y=mean, mode="lines", line=dict(color=color, width=1),
            name=sname, showlegend=False, xaxis=xa, yaxis=ya))

    fig.add_trace(go.Scatter(
        x=train, y=[1.05] * len(train), mode="markers",
        marker=dict(color=RED, size=3.5, line=dict(width=0)),
        hoverinfo="skip", showlegend=False, xaxis=xa, yaxis=ya))

    top = ROW_T0 + ROW_STEP * row
    bot = top + ROW_HT
    left, right = COL_L[col], COL_R[col]
    xmin = 4
    xkey = "xaxis" if i == 0 else f"xaxis{i + 1}"
    ykey = "yaxis" if i == 0 else f"yaxis{i + 1}"
    layout_axes[xkey] = dict(
        domain=[left / W, right / W], anchor=ya, automargin=False,
        range=[xmin - 0.05 * (xmax - xmin), xmax],
        tickmode="array", tickvals=ticks, ticktext=[str(t) for t in ticks],
        showgrid=True, gridcolor=GRID, gridwidth=1, zeroline=False,
        showline=True, linecolor=SPINE, linewidth=1,
        ticks="outside", ticklen=4, tickwidth=1, tickcolor=SPINE,
        ticklabelstandoff=-6,
        tickfont=dict(family=FONT, size=13, color=TXT), fixedrange=True)
    layout_axes[ykey] = dict(
        domain=[1 - bot / H, 1 - top / H], anchor=xa, automargin=False,
        range=[-0.05, 1.1],
        tickmode="array", tickvals=Y_TICKS, ticktext=[f"{v:.1f}" for v in Y_TICKS],
        showticklabels=(col == 0),
        showgrid=True, gridcolor=GRID, gridwidth=1, zeroline=False,
        showline=True, linecolor=SPINE, linewidth=1,
        ticks="outside", ticklen=4, tickwidth=1, tickcolor=SPINE,
        ticklabelstandoff=-4,
        tickfont=dict(family=FONT, size=13, color=TXT), fixedrange=True)

    annotations.append(dict(
        text=name, x=(left + right) / 2 / W, y=1 - top / H, xref="paper", yref="paper",
        xanchor="center", yanchor="bottom", yshift=-2, showarrow=False,
        font=dict(family=FONT, size=13.3, color=TXT)))
    if col == 0:
        annotations.append(dict(
            text="accuracy", x=13 / W, y=1 - (top + bot) / 2 / H, xref="paper", yref="paper",
            xanchor="center", yanchor="middle", textangle=-90, showarrow=False,
            font=dict(family=FONT, size=13, color=TXT)))
    if row == 5:
        annotations.append(dict(
            text="test length", x=(left + right) / 2 / W, y=1 - 1277 / H, xref="paper", yref="paper",
            xanchor="center", yanchor="middle", showarrow=False,
            font=dict(family=FONT, size=13, color=TXT)))

# manual legend (line sample + label) at the bottom centre
LEGEND_Y = 1306
legend_items = [(355, 383, 392, RED, SERIES_NAMES[0]), (593, 620, 630, PURPLE, SERIES_NAMES[1])]
for x0, x1, xt, color, label in legend_items:
    shapes.append(dict(type="line", xref="paper", yref="paper",
                       x0=x0 / W, x1=x1 / W, y0=1 - LEGEND_Y / H, y1=1 - LEGEND_Y / H,
                       line=dict(color=color, width=1.3)))
    annotations.append(dict(
        text=label, x=xt / W, y=1 - LEGEND_Y / H, xref="paper", yref="paper",
        xanchor="left", yanchor="middle", showarrow=False,
        font=dict(family=FONT, size=13, color=TXT)))

fig.update_layout(
    width=W, height=H, autosize=False,
    margin=dict(l=0, r=0, t=0, b=0, autoexpand=False),
    paper_bgcolor="white", plot_bgcolor="white",
    font=dict(family=FONT, size=13, color=TXT),
    showlegend=False,
    annotations=annotations,
    shapes=shapes,
    **layout_axes,
)

# the page's default 8px body margin would shift the figure; remove it
fig.write_html("out.html", config={"displayModeBar": False},
               post_script="document.body.style.margin='0px';")
